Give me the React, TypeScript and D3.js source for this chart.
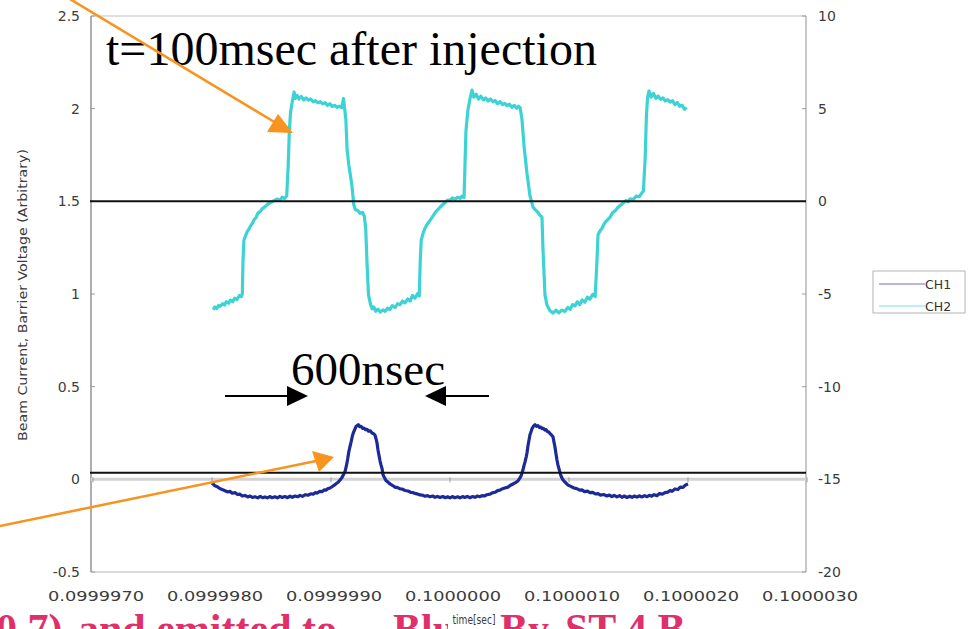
import React from "react";
import * as d3 from "d3";

const W = 974;
const H = 629;

// Time is stored in nanoseconds relative to t = 0.1 s
const xTickNs = [-3000, -2000, -1000, 0, 1000, 2000, 3000];
const xTickLabels = ["0.0999970", "0.0999980", "0.0999990", "0.1000000", "0.1000010", "0.1000020", "0.1000030"];
const leftTicks = [2.5, 2, 1.5, 1, 0.5, 0, -0.5];
const leftTickLabels = ["2.5", "2", "1.5", "1", "0.5", "0", "-0.5"];
const rightTicks = [10, 5, 0, -5, -10, -15, -20];
const rightTickLabels = ["10", "5", "0", "-5", "-10", "-15", "-20"];
const seriesNames = ["CH1", "CH2"];

// Reference levels (left-axis units) marked with black lines
const markerLevels = [1.5, 0.035];

// CH1: beam current (left axis), [ns, value]
const ch1Samples: [number, number][] = [
  [-2000, -0.02], [-1975, -0.035], [-1955, -0.04], [-1935, -0.05], [-1915, -0.055], [-1895, -0.06],
  [-1870, -0.068], [-1850, -0.065], [-1830, -0.075], [-1807, -0.072], [-1785, -0.082], [-1765, -0.08],
  [-1745, -0.09], [-1723, -0.087], [-1700, -0.095], [-1680, -0.09], [-1660, -0.098], [-1639, -0.094],
  [-1615, -0.1], [-1595, -0.092], [-1575, -0.099], [-1555, -0.095], [-1535, -0.1], [-1515, -0.093],
  [-1495, -0.099], [-1471, -0.094], [-1450, -0.1], [-1430, -0.092], [-1410, -0.098], [-1387, -0.093],
  [-1365, -0.099], [-1345, -0.091], [-1325, -0.097], [-1302, -0.09], [-1280, -0.094], [-1260, -0.087],
  [-1240, -0.092], [-1215, -0.083], [-1193, -0.086], [-1170, -0.078], [-1150, -0.08], [-1134, -0.072],
  [-1115, -0.074], [-1095, -0.065], [-1076, -0.066], [-1055, -0.057], [-1040, -0.058], [-1025, -0.05],
  [-1008, -0.047], [-992, -0.04], [-975, -0.033], [-958, -0.024], [-940, -0.016], [-924, -0.004],
  [-910, 0.008], [-899, 0.02], [-882, 0.042], [-870, 0.075], [-860, 0.11], [-850, 0.15],
  [-840, 0.178], [-830, 0.205], [-820, 0.235], [-810, 0.255], [-800, 0.27], [-790, 0.285],
  [-780, 0.29], [-770, 0.295], [-760, 0.284], [-748, 0.286], [-735, 0.275], [-723, 0.277],
  [-710, 0.268], [-698, 0.27], [-685, 0.26], [-670, 0.262], [-655, 0.25], [-640, 0.245],
  [-630, 0.238], [-620, 0.215], [-613, 0.195], [-605, 0.158], [-597, 0.13], [-588, 0.1],
  [-580, 0.078], [-571, 0.058], [-563, 0.025], [-550, 0.008], [-538, -0.006], [-520, -0.016],
  [-504, -0.025], [-485, -0.032], [-462, -0.042], [-440, -0.045], [-420, -0.051], [-403, -0.052],
  [-380, -0.06], [-353, -0.063], [-330, -0.07], [-315, -0.071], [-294, -0.076], [-270, -0.08],
  [-250, -0.084], [-235, -0.085], [-210, -0.091], [-190, -0.088], [-168, -0.094], [-145, -0.09],
  [-125, -0.097], [-105, -0.092], [-84, -0.098], [-60, -0.093], [-40, -0.099], [-20, -0.094],
  [0, -0.1], [20, -0.093], [40, -0.099], [65, -0.094], [84, -0.1], [105, -0.093],
  [125, -0.098], [145, -0.092], [168, -0.099], [190, -0.093], [210, -0.097], [230, -0.09],
  [250, -0.094], [269, -0.088], [290, -0.09], [310, -0.083], [336, -0.08], [355, -0.073],
  [378, -0.07], [400, -0.061], [420, -0.058], [437, -0.052], [460, -0.047], [487, -0.042],
  [508, -0.032], [529, -0.025], [550, -0.018], [571, -0.009], [585, 0.005], [597, 0.018],
  [605, 0.035], [613, 0.05], [622, 0.075], [630, 0.093], [640, 0.12], [647, 0.142],
  [655, 0.18], [664, 0.212], [672, 0.24], [681, 0.257], [690, 0.275], [697, 0.282],
  [705, 0.29], [714, 0.295], [726, 0.286], [739, 0.29], [752, 0.279], [764, 0.282],
  [773, 0.274], [785, 0.275], [797, 0.266], [807, 0.268], [818, 0.258], [830, 0.255],
  [840, 0.248], [852, 0.24], [866, 0.228], [874, 0.2], [882, 0.175], [890, 0.14],
  [899, 0.104], [907, 0.078], [916, 0.056], [925, 0.035], [933, 0.018], [945, 0.002],
  [958, -0.01], [975, -0.02], [992, -0.031], [1015, -0.038], [1042, -0.047], [1065, -0.05],
  [1090, -0.058], [1109, -0.057], [1130, -0.066], [1155, -0.064], [1176, -0.072], [1200, -0.07],
  [1222, -0.079], [1244, -0.077], [1265, -0.085], [1290, -0.082], [1319, -0.09], [1340, -0.085],
  [1360, -0.093], [1380, -0.087], [1403, -0.095], [1425, -0.088], [1445, -0.097], [1465, -0.09],
  [1487, -0.098], [1510, -0.091], [1530, -0.097], [1550, -0.09], [1571, -0.096], [1590, -0.089],
  [1612, -0.095], [1635, -0.088], [1655, -0.094], [1675, -0.086], [1695, -0.091], [1715, -0.083],
  [1739, -0.088], [1760, -0.077], [1785, -0.08], [1807, -0.072], [1830, -0.069], [1850, -0.06],
  [1866, -0.065], [1890, -0.052], [1916, -0.055], [1935, -0.042], [1958, -0.044], [1980, -0.03],
  [2000, -0.025],
];

// CH2: barrier voltage (right axis), [ns, value]
const ch2Samples: [number, number][] = [
  [-1990, -5.85], [-1975, -5.7], [-1960, -5.78], [-1945, -5.62], [-1930, -5.66], [-1910, -5.52],
  [-1895, -5.6], [-1880, -5.42], [-1860, -5.5], [-1845, -5.33], [-1825, -5.42], [-1810, -5.22],
  [-1790, -5.3], [-1770, -5.08], [-1755, -5.15], [-1745, -5.0], [-1740, -3.3], [-1732, -2.1],
  [-1720, -1.9], [-1705, -1.65], [-1690, -1.5], [-1675, -1.32], [-1660, -1.18], [-1645, -0.97],
  [-1630, -0.88], [-1613, -0.62], [-1595, -0.55], [-1575, -0.38], [-1555, -0.3], [-1535, -0.17],
  [-1515, -0.1], [-1495, -0.02], [-1475, 0.05], [-1455, 0.12], [-1430, 0.06], [-1410, 0.22],
  [-1390, 0.15], [-1372, 0.3], [-1360, 1.9], [-1350, 3.8], [-1340, 4.8], [-1325, 5.4],
  [-1310, 5.9], [-1300, 5.55], [-1285, 5.72], [-1270, 5.52], [-1250, 5.66], [-1230, 5.47],
  [-1210, 5.58], [-1190, 5.46], [-1170, 5.52], [-1150, 5.37], [-1130, 5.43], [-1110, 5.31],
  [-1090, 5.38], [-1070, 5.26], [-1050, 5.33], [-1030, 5.17], [-1010, 5.27], [-990, 5.12],
  [-970, 5.18], [-950, 5.07], [-930, 5.13], [-910, 5.06], [-895, 5.55], [-875, 4.4],
  [-865, 2.8], [-850, 1.95], [-825, 0.9], [-808, -0.2], [-795, -0.45], [-775, -0.5],
  [-755, -0.65], [-735, -0.6], [-720, -0.8], [-708, -1.5], [-698, -3.2], [-685, -5.05],
  [-670, -5.5], [-655, -5.8], [-640, -5.7], [-625, -5.93], [-605, -5.82], [-585, -5.98],
  [-565, -5.86], [-545, -5.93], [-525, -5.77], [-505, -5.84], [-485, -5.63], [-462, -5.73],
  [-440, -5.52], [-420, -5.58], [-400, -5.38], [-378, -5.48], [-355, -5.27], [-335, -5.38],
  [-315, -5.08], [-294, -5.22], [-270, -4.97], [-258, -5.1], [-250, -3.2], [-242, -2.1],
  [-225, -1.7], [-210, -1.45], [-190, -1.22], [-170, -1.05], [-151, -0.87], [-130, -0.66],
  [-110, -0.5], [-84, -0.32], [-60, -0.17], [-40, -0.06], [-20, 0.07], [0, 0.05],
  [20, 0.18], [45, 0.11], [65, 0.23], [84, 0.16], [100, 0.28], [118, 0.2],
  [126, 2.0], [134, 3.8], [150, 4.9], [170, 5.6], [185, 6.0], [200, 5.62],
  [220, 5.78], [240, 5.52], [260, 5.67], [280, 5.47], [300, 5.58], [320, 5.42],
  [340, 5.52], [360, 5.37], [380, 5.44], [400, 5.27], [420, 5.38], [440, 5.22],
  [460, 5.29], [480, 5.16], [500, 5.24], [520, 5.07], [540, 5.18], [560, 5.02],
  [575, 5.13], [590, 5.05], [605, 4.4], [622, 3.0], [647, 1.5], [672, 0.3],
  [697, -0.3], [715, -0.45], [739, -0.6], [755, -0.75], [773, -0.85], [781, -2.5],
  [798, -5.05], [815, -5.6], [840, -5.9], [865, -6.03], [891, -5.87], [915, -6.02],
  [940, -5.87], [966, -5.94], [990, -5.72], [1010, -5.83], [1030, -5.57], [1050, -5.64],
  [1070, -5.42], [1090, -5.58], [1110, -5.32], [1134, -5.44], [1155, -5.17], [1175, -5.28],
  [1200, -5.02], [1220, -5.14], [1235, -3.2], [1244, -1.8], [1260, -1.6], [1277, -1.45],
  [1295, -1.22], [1315, -1.05], [1344, -0.87], [1365, -0.62], [1390, -0.5], [1412, -0.32],
  [1435, -0.2], [1460, -0.06], [1480, 0.05], [1496, -0.03], [1515, 0.14], [1540, 0.1],
  [1563, 0.28], [1590, 0.25], [1610, 0.43], [1625, 0.55], [1640, 2.3], [1650, 4.5],
  [1660, 5.6], [1672, 5.95], [1690, 5.62], [1710, 5.82], [1730, 5.56], [1750, 5.68],
  [1770, 5.5], [1790, 5.58], [1810, 5.42], [1830, 5.48], [1850, 5.36], [1870, 5.43],
  [1890, 5.22], [1910, 5.33], [1930, 5.12], [1950, 5.19], [1970, 4.97], [1990, 5.05],
];

const PLOT_LEFT = 91;
const PLOT_RIGHT = 806;
const PLOT_TOP = 16;
const PLOT_BOTTOM = 572;

const AXIS_FONT = "'DejaVu Sans', Verdana, sans-serif";
const SERIF = "'Liberation Serif', 'Times New Roman', serif";
const CH1_COLOR = "#1e2b96";
const CH2_COLOR = "#3dd3d4";
const ORANGE = "#f7931e";

export default function App() {
  const x = d3.scaleLinear().domain([-3000, 3000]).range([93, 807]);
  const yL = d3.scaleLinear().domain([-0.5, 2.5]).range([PLOT_BOTTOM, PLOT_TOP]);
  const yR = d3.scaleLinear().domain([-20, 10]).range([PLOT_BOTTOM, PLOT_TOP]);

  const ch1Line = d3
    .line<[number, number]>()
    .x((d) => x(d[0]))
    .y((d) => yL(d[1]));
  const ch2Line = d3
    .line<[number, number]>()
    .x((d) => x(d[0]))
    .y((d) => yR(d[1]));

  const y0 = yL(0);

  return (
    <div style={{ position: "absolute", left: 0, top: 0, width: W, height: H, overflow: "hidden", background: "#fff" }}>
      <svg width={W} height={H} viewBox={`0 0 ${W} ${H}`} style={{ display: "block" }}>
        <defs>
          <filter id="soft" x="-5%" y="-5%" width="110%" height="110%">
            <feGaussianBlur stdDeviation="0.45" />
          </filter>
        </defs>
        <rect x={0} y={0} width={W} height={H} fill="#fff" />

        {/* caption line running off the bottom edge of the slide */}
        <text y={643} fontFamily={SERIF} fontWeight="bold" fontSize={42} fill="#e0306c">
          <tspan x={-18}>(0.7)</tspan>
          <tspan x={78}>and emitted to</tspan>
          <tspan x={393}>Blue</tspan>
          <tspan x={500}>By</tspan>
          <tspan x={565}>ST 4 B</tspan>
        </text>
        <rect x={448} y={604} width={50} height={25} fill="#fff" />

        {/* plot frame */}
        <line x1={PLOT_LEFT} x2={PLOT_RIGHT} y1={PLOT_TOP} y2={PLOT_TOP} stroke="#d4d4d4" strokeWidth={1.5} />
        <line x1={PLOT_LEFT} x2={PLOT_RIGHT} y1={PLOT_BOTTOM} y2={PLOT_BOTTOM} stroke="#cfcfcf" strokeWidth={1.5} />
        <line x1={PLOT_LEFT} x2={PLOT_LEFT} y1={PLOT_TOP} y2={PLOT_BOTTOM} stroke="#9a9a9a" strokeWidth={1.6} />
        <line x1={PLOT_RIGHT} x2={PLOT_RIGHT} y1={PLOT_TOP} y2={PLOT_BOTTOM} stroke="#b0b0b0" strokeWidth={1.4} />

        {/* left axis */}
        {leftTicks.map((v, i) => (
          <g key={`l${i}`}>
            <line x1={PLOT_LEFT} x2={PLOT_LEFT + 4} y1={yL(v)} y2={yL(v)} stroke="#9a9a9a" strokeWidth={1} />
            <text x={80} y={yL(v) + 5} textAnchor="end" fontFamily={AXIS_FONT} fontSize={14} fill="#3c3c3c">
              {leftTickLabels[i]}
            </text>
          </g>
        ))}

        {/* right axis */}
        {rightTicks.map((v, i) => (
          <g key={`r${i}`}>
            <line x1={PLOT_RIGHT - 4} x2={PLOT_RIGHT} y1={yR(v)} y2={yR(v)} stroke="#9a9a9a" strokeWidth={1} />
            <text x={818} y={yR(v) + 5} textAnchor="start" fontFamily={AXIS_FONT} fontSize={14} fill="#3c3c3c">
              {rightTickLabels[i]}
            </text>
          </g>
        ))}

        {/* horizontal time axis at zero */}
        <line x1={PLOT_LEFT} x2={PLOT_RIGHT} y1={y0} y2={y0} stroke="#d2d2d2" strokeWidth={3} />
        {xTickNs.map((t, i) => (
          <g key={`x${i}`}>
            <line x1={x(t)} x2={x(t)} y1={y0 - 2} y2={y0 + 3} stroke="#999" strokeWidth={1} />
            <text
              x={x(t) + 3}
              y={601}
              textAnchor="middle"
              fontFamily={AXIS_FONT}
              fontSize={14}
              fill="#3c3c3c"
              textLength={96}
              lengthAdjust="spacingAndGlyphs"
            >
              {xTickLabels[i]}
            </text>
          </g>
        ))}

        {/* axis titles */}
        <text
          x={474}
          y={624}
          textAnchor="middle"
          fontFamily={AXIS_FONT}
          fontSize={12}
          fill="#3c3c3c"
          textLength={43}
          lengthAdjust="spacingAndGlyphs"
        >
          time[sec]
        </text>
        <text
          transform="translate(27,295) rotate(-90)"
          textAnchor="middle"
          fontFamily={AXIS_FONT}
          fontSize={11.5}
          fill="#3c3c3c"
          textLength={292}
          lengthAdjust="spacingAndGlyphs"
        >
          Beam Current, Barrier Voltage (Arbitrary)
        </text>

        {/* traces */}
        <g filter="url(#soft)">
          <path d={ch2Line(ch2Samples) || ""} fill="none" stroke={CH2_COLOR} strokeWidth={3.2} strokeLinejoin="round" />
          <path d={ch1Line(ch1Samples) || ""} fill="none" stroke={CH1_COLOR} strokeWidth={3.2} strokeLinejoin="round" />
        </g>

        {/* reference level lines */}
        {markerLevels.map((v, i) => (
          <line key={`m${i}`} x1={PLOT_LEFT - 1} x2={PLOT_RIGHT} y1={yL(v)} y2={yL(v)} stroke="#111" strokeWidth={2} />
        ))}

        {/* legend */}
        <rect x={873} y={271} width={92} height={42} fill="#fff" stroke="#b4b4b4" strokeWidth={1} />
        {seriesNames.map((name, i) => (
          <g key={name}>
            <line
              x1={879}
              x2={925}
              y1={284 + i * 22}
              y2={284 + i * 22}
              stroke={i === 0 ? "#a39be0" : "#a6ecec"}
              strokeWidth={1.4}
            />
            <text x={925} y={289 + i * 22} fontFamily={AXIS_FONT} fontSize={12.5} fill="#333">
              {name}
            </text>
          </g>
        ))}

        {/* annotations */}
        <text x={106} y={65} fontFamily={SERIF} fontSize={48} fill="#000">
          t=100msec after injection
        </text>
        <text x={291} y={385} fontFamily={SERIF} fontSize={47} fill="#000">
          600nsec
        </text>

        {/* 600 ns span arrows */}
        <line x1={225} x2={290} y1={396} y2={396} stroke="#000" strokeWidth={2} />
        <polygon points="308,396 287,386 287,406" fill="#000" />
        <line x1={444} x2={489} y1={396} y2={396} stroke="#000" strokeWidth={2} />
        <polygon points="425,396 446,386 446,406" fill="#000" />

        {/* orange pointers */}
        <line x1={40} y1={-19} x2={276} y2={123} stroke={ORANGE} strokeWidth={2.5} />
        <polygon points="293,133 267,132 278,114" fill={ORANGE} />
        <line x1={-5} y1={527} x2={316} y2={461} stroke={ORANGE} strokeWidth={2.5} />
        <polygon points="334,457 312,451 319,472" fill={ORANGE} />
      </svg>
    </div>
  );
}
